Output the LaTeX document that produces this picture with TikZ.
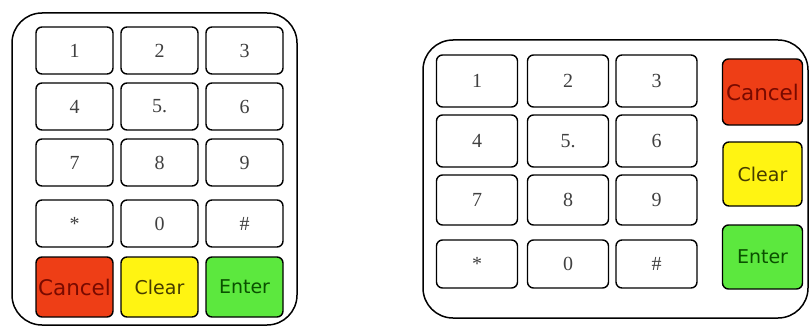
\documentclass[tikz,border=0pt]{standalone}
\usepackage{fontspec}
\setmainfont{Liberation Serif}
\newfontfamily\keysans{DejaVu Sans}
\definecolor{kred}{RGB}{238,62,22}
\definecolor{kyellow}{RGB}{255,244,18}
\definecolor{kgreen}{RGB}{92,232,62}
\definecolor{tred}{RGB}{120,10,0}
\definecolor{tyel}{RGB}{70,60,0}
\definecolor{tgreen}{RGB}{10,80,0}
\begin{document}
\begin{tikzpicture}[x=1pt,y=-1pt,
  outer/.style={draw=black,line width=1.5pt,rounded corners=30pt},
  keybox/.style={draw=black,line width=1.4pt,rounded corners=6pt,inner sep=0pt,
     font=\fontsize{20}{20}\selectfont,text=black!75},
  wordkey/.style={keybox,font=\keysans\fontsize{19}{19}\selectfont},
  cancelfont/.style={font=\keysans\fontsize{21.5}{21.5}\selectfont}]
\useasboundingbox (0,0) rectangle (811,329);
% left panel
\draw[outer] (12,13) rectangle (297,325);
\foreach \lbl/\c/\r [count=\i] in {1/0/0,2/1/0,3/2/0,4/0/1,5./1/1,6/2/1,7/0/2,8/1/2,9/2/2,{*}/0/3,0/1/3,\#/2/3}{
  \pgfmathsetmacro\xx{74.5+85*\c}
  \pgfmathsetmacro\yy{{50.5,106.5,162.5,223.5}[\r]}
  \node[keybox,minimum width=77pt,minimum height=47pt] (L\i) at (\xx,\yy) {\lbl};
}
\node[wordkey,fill=kred,text=tred,minimum width=77pt,minimum height=60pt,cancelfont] (Lcancel) at (74.5,287) {Cancel};
\node[wordkey,fill=kyellow,text=tyel,minimum width=77pt,minimum height=60pt] (Lclear) at (159.5,287) {Clear};
\node[wordkey,fill=kgreen,text=tgreen,minimum width=77pt,minimum height=60pt] (Lenter) at (244.5,287) {Enter};
% right panel
\draw[outer] (423,40) rectangle (808,318);
\foreach \lbl/\c/\r [count=\i] in {1/0/0,2/1/0,3/2/0,4/0/1,5./1/1,6/2/1,7/0/2,8/1/2,9/2/2,{*}/0/3,0/1/3,\#/2/3}{
  \pgfmathsetmacro\xx{{477,568,656.5}[\c]}
  \pgfmathsetmacro\yy{{81,141,200,264}[\r]}
  \pgfmathsetmacro\hh{{52,52,50,48}[\r]}
  \node[keybox,minimum width=81pt,minimum height=\hh pt] (R\i) at (\xx,\yy) {\lbl};
}
\node[wordkey,fill=kred,text=tred,minimum width=80pt,minimum height=66pt,cancelfont] (Rcancel) at (762.5,92) {Cancel};
\node[wordkey,fill=kyellow,text=tyel,minimum width=79pt,minimum height=64pt] (Rclear) at (762.5,174) {Clear};
\node[wordkey,fill=kgreen,text=tgreen,minimum width=80pt,minimum height=64pt] (Renter) at (762.5,257) {Enter};
\end{tikzpicture}
\end{document}
